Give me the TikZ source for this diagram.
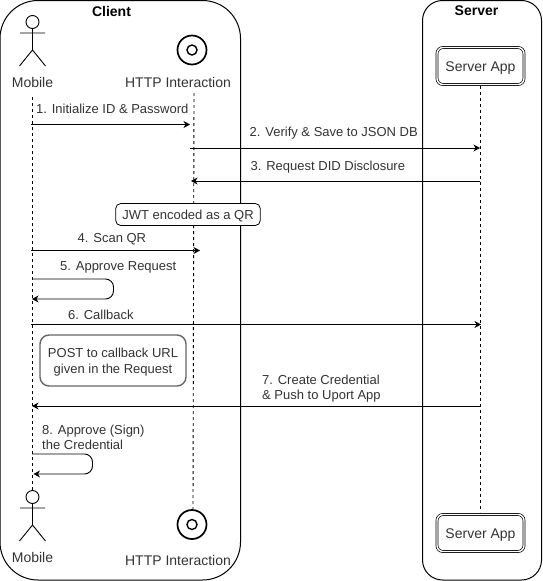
\documentclass[tikz,border=0pt]{standalone}
\usepackage{fontspec}
\setmainfont{Liberation Sans}
\usetikzlibrary{arrows.meta}
\definecolor{txt}{HTML}{333333}
\tikzset{
  x=1pt,y=-1pt,
  lane/.style={draw=black,line width=1pt,fill=none},
  lifeline/.style={draw=black,line width=0.9pt,dash pattern=on 3pt off 3pt},
  msg/.style={draw=black,line width=0.9pt,-{Stealth[length=6.5pt,width=7pt,inset=2pt]}},
  label/.style={font=\fontsize{14}{15.5}\selectfont,text=txt,inner sep=0pt,align=center},
  msglabel/.style={label,font=\fontsize{13}{15}\selectfont,anchor=west,align=left},
  note/.style={draw=black,line width=0.8pt,rounded corners=5pt,fill=white,inner sep=0pt,minimum width=144.5pt,minimum height=22pt,text height=10pt,text depth=1pt,font=\fontsize{13}{15}\selectfont,text=txt},
  bignote/.style={draw=black!60,line width=1.4pt,rounded corners=9pt,fill=white,inner sep=0pt,minimum width=146pt,minimum height=51pt,align=center,font=\fontsize{13}{15.5}\selectfont,text=txt},
  appbox/.style={draw=black,line width=0.7pt,double=white,double distance=1.4pt,rounded corners=6pt,fill=white,inner sep=0pt,minimum width=87pt,minimum height=37pt,text height=11pt,text depth=1pt,font=\fontsize{14}{16}\selectfont,text=txt},
  target/.style={circle,draw=black,line width=1.7pt,minimum size=29pt,inner sep=0pt,fill=white},
  targetin/.style={circle,draw=black,line width=1.4pt,minimum size=10pt,inner sep=0pt},
}
\newcommand{\stickman}[2]{%
  \draw[line width=0.9pt,fill=white] (#1,#2-11) circle (6.5pt);
  \draw[line width=0.9pt] (#1-12.5,#2) -- (#1+12.5,#2) (#1,#2-4.5) -- (#1,#2+17) (#1-13,#2+33) -- (#1,#2+17) -- (#1+13,#2+33);
}
\begin{document}
\begin{tikzpicture}
\useasboundingbox (0,0) rectangle (543,581);
\fill[white] (0,0) rectangle (543,581);
% swimlanes
\draw[lane,rounded corners=38pt] (0,0.5) rectangle (240.5,580);
\draw[lane,rounded corners=20pt] (422.5,0.5) rectangle (541.5,580);
\node[label,font=\bfseries\fontsize{14}{16}\selectfont,text=black] (clienttitle) at (111.5,11) {Client};
\node[label,font=\bfseries\fontsize{14}{16}\selectfont,text=black] (servertitle) at (476.5,11) {Server};
% named anchors of the lifelines
\coordinate (mobtop) at (32.5,97);
\coordinate (mobbot) at (32.5,490);
\coordinate (httptop) at (194,93);
\coordinate (httpbot) at (193,509);
\coordinate (apptop) at (480.5,86);
\coordinate (appbot) at (480.5,512);
\draw[lifeline] (mobtop) -- (mobbot);
\draw[lifeline] (httptop) -- (httpbot);
\draw[lifeline] (apptop) -- (appbot);
% actors
\stickman{32.5}{33}
\stickman{32.5}{508}
\node[label] (mobile1) at (32.5,82) {Mobile};
\node[label] (mobile2) at (32.5,557) {Mobile};
% HTTP boundary
\node[target] (http1) at (192,50) {};
\node[targetin] at (http1) {};
\node[target] (http2) at (192,524.5) {};
\node[targetin] at (http2) {};
\node[label] (httplabel1) at (178,82) {HTTP Interaction};
\node[label] (httplabel2) at (178,560) {HTTP Interaction};
% server apps
\node[appbox] (app1) at (480.5,66) {Server App};
\node[appbox] (app2) at (480.5,533) {Server App};
% notes
\node[note] (jwt) at (188,214.5) {JWT encoded as a QR};
\node[bignote] (post) at (113,360.5) {\rule{0pt}{13pt}POST to callback URL\\given in the Request};
% message end points on the lifelines
\coordinate (m1a) at (31,124.5); \coordinate (m1b) at (190,124.5);
\coordinate (m2a) at (190,148); \coordinate (m2b) at (480,148);
\coordinate (m3a) at (480,181); \coordinate (m3b) at (191,181);
\coordinate (m4a) at (31,250.5); \coordinate (m4b) at (200,250.5);
\coordinate (m5a) at (32,279); \coordinate (m5b) at (32,299);
\coordinate (m6a) at (31,324.5); \coordinate (m6b) at (481,324.5);
\coordinate (m7a) at (480,406); \coordinate (m7b) at (32,406);
\coordinate (m8a) at (32,454); \coordinate (m8b) at (33.5,474);
\draw[msg] (m1a) -- (m1b);
\draw[msg] (m2a) -- (m2b);
\draw[msg] (m3a) -- (m3b);
\draw[msg] (m4a) -- (m4b);
\draw[msg,rounded corners=8pt] (m5a) -- (113.5,279) -- (113.5,299) -- (m5b);
\draw[msg] (m6a) -- (m6b);
\draw[msg] (m7a) -- (m7b);
\draw[msg,rounded corners=8pt] (m8a) -- (92.5,454) -- (92.5,474) -- (m8b);
% message labels
\node[msglabel] (l1) at (36,108.5) {1. Initialize ID \& Password};
\node[msglabel] (l2) at (249.5,133.5) {2. Verify \& Save to JSON DB};
\node[msglabel] (l3) at (250.5,167) {3. Request DID Disclosure};
\node[msglabel] (l4) at (77.5,239.5) {4. Scan QR};
\node[msglabel] (l5) at (60,267) {5. Approve Request};
\node[msglabel] (l6) at (68,314.5) {6. Callback};
\node[msglabel] (l7) at (262,388.5) {7. Create Credential\\\& Push to Uport App};
\node[msglabel] (l8) at (42,437) {8. Approve (Sign)\\the Credential};
\end{tikzpicture}
\end{document}
